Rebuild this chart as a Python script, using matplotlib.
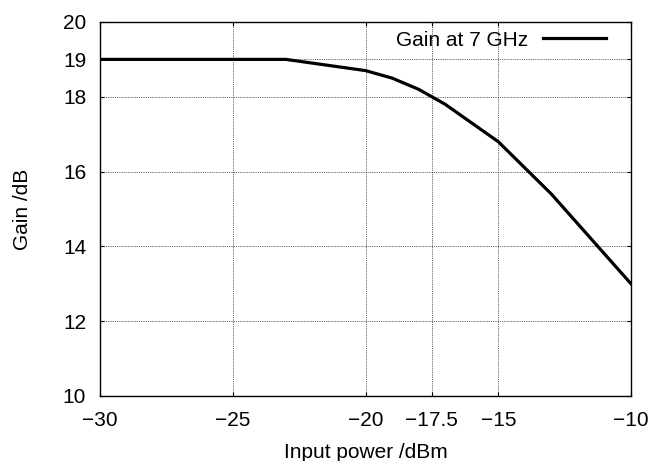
import matplotlib
matplotlib.use("Agg")
import matplotlib.pyplot as plt

plt.rcParams['font.family'] = ['Liberation Sans', 'DejaVu Sans']

# input power (dBm) vs gain (dB)
power = [-30, -23, -20, -19, -18, -17, -15, -13, -10]
gain = [19.0, 19.0, 18.7, 18.5, 18.2, 17.8, 16.8, 15.4, 13.0]

xticks = [-30, -25, -20, -17.5, -15, -10]
xtick_labels = ["\u221230", "\u221225", "\u221220", "\u221217.5", "\u221215", "\u221210"]
yticks = [10, 12, 14, 16, 18, 19, 20]

fs = 15

fig = plt.figure(figsize=(6.52, 4.61), dpi=100)
ax = fig.add_axes([0.1534, 0.141, 0.8144, 0.8113])

ax.plot(power, gain, '-', color='black', lw=2.3, label='Gain at 7 GHz', zorder=3)

ax.set_xlim(-30, -10)
ax.set_ylim(10, 20)
ax.set_xticks(xticks)
ax.set_xticklabels(xtick_labels)
ax.set_yticks(yticks)

ax.grid(True, ls=(0, (1, 1.2)), color='#333333', lw=0.6)
ax.tick_params(direction='in', top=True, right=True, labelsize=fs, length=3)
ax.tick_params(axis='x', pad=11)
ax.tick_params(axis='y', pad=10)
for s in ax.spines.values():
    s.set_linewidth(1.0)

ax.set_xlabel('Input power /dBm', fontsize=fs, labelpad=9)
ax.set_ylabel('Gain /dB', fontsize=fs, labelpad=22)

leg = ax.legend(loc='upper right', bbox_to_anchor=(0.964, 0.9936),
                frameon=False, markerfirst=False,
                handlelength=3.0, handletextpad=0.7, fontsize=fs,
                borderaxespad=0, borderpad=0.3)

fig.savefig('out.png', dpi=100)
